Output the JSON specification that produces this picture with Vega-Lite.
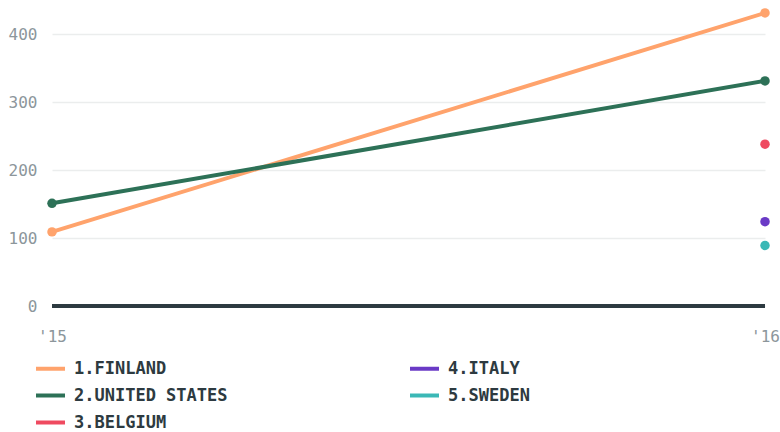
{
  "$schema": "https://vega.github.io/schema/vega-lite/v6.json",
  "width": 713,
  "height": 306,
  "autosize": "none",
  "padding": {"left": 52, "top": 0, "right": 15, "bottom": 126},
  "background": "#ffffff",
  "config": {"view": {"stroke": null}},
  "data": {"values": [
    {"country": "1.FINLAND", "year": "'15", "value": 109},
    {"country": "1.FINLAND", "year": "'16", "value": 431},
    {"country": "2.UNITED STATES", "year": "'15", "value": 151},
    {"country": "2.UNITED STATES", "year": "'16", "value": 331},
    {"country": "3.BELGIUM", "year": "'16", "value": 238},
    {"country": "4.ITALY", "year": "'16", "value": 124},
    {"country": "5.SWEDEN", "year": "'16", "value": 89}
  ]},
  "encoding": {
    "x": {"field": "year", "type": "ordinal", "scale": {"type": "point", "padding": 0}, "sort": ["'15", "'16"],
      "axis": {"title": null, "domain": false, "ticks": false, "labelAngle": 0, "labelFont": "DejaVu Sans Mono", "labelFontSize": 16, "labelColor": "#8c969b", "labelPadding": 22, "grid": false}},
    "y": {"field": "value", "type": "quantitative", "scale": {"domain": [0, 450], "nice": false},
      "axis": {"title": null, "domain": false, "ticks": false, "values": [0, 100, 200, 300, 400], "labelFont": "DejaVu Sans Mono", "labelFontSize": 16, "labelColor": "#8c969b", "labelPadding": 15, "gridColor": "#ebeded", "gridWidth": 1.5}},
    "color": {"field": "country", "type": "nominal",
      "scale": {"domain": ["1.FINLAND", "4.ITALY", "2.UNITED STATES", "5.SWEDEN", "3.BELGIUM"],
        "range": ["#ffa36c", "#6a3ac6", "#2d7157", "#3bb8b6", "#ef4a60"]},
      "legend": {"orient": "none", "legendX": -18, "legendY": 352, "columns": 2, "direction": "horizontal", "title": null,
        "symbolType": "stroke", "symbolSize": 841, "symbolStrokeWidth": 4, "labelFont": "DejaVu Sans Mono", "labelFontSize": 17, "labelFontWeight": "bold", "labelColor": "#2d3a40", "labelOffset": 7, "rowPadding": 2, "columnPadding": 174, "labelLimit": 300}}
  },
  "layer": [
    {"mark": {"type": "rule", "color": "#2d3a40", "strokeWidth": 3}, "encoding": {"y": {"datum": 0}, "x": null, "color": null}},
    {"mark": {"type": "line", "strokeWidth": 4}},
    {"mark": {"type": "point", "filled": true, "size": 90, "opacity": 1}}
  ]
}
